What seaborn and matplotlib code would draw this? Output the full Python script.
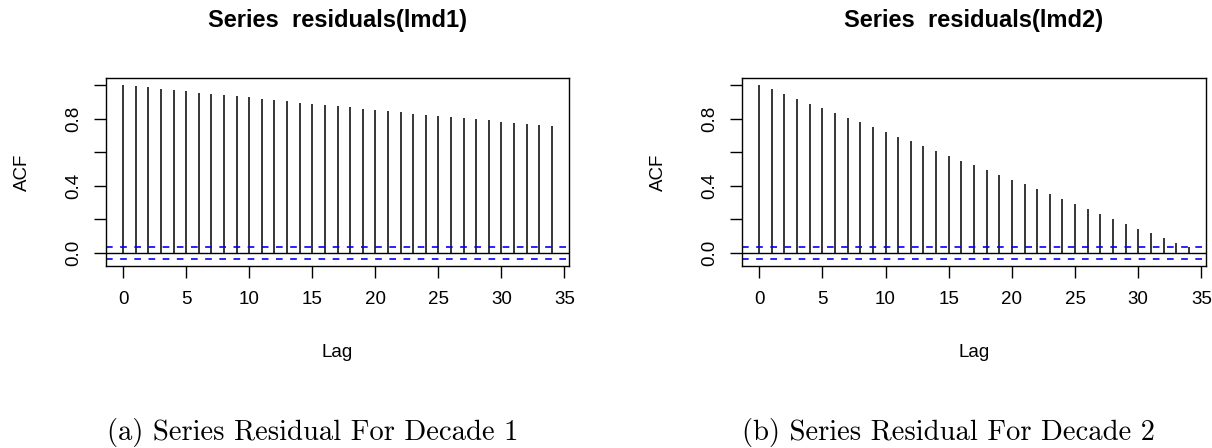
import numpy as np
import pandas as pd
import seaborn as sns
import matplotlib
matplotlib.use("Agg")
import matplotlib.pyplot as plt

# 数据：ACF 值
lags = list(range(35))
acf_lmd1 = [1.000, 0.994, 0.986, 0.978, 0.970, 0.962, 0.954, 0.946, 0.938, 0.932,
            0.926, 0.918, 0.910, 0.902, 0.894, 0.886, 0.880, 0.873, 0.866, 0.859,
            0.851, 0.843, 0.837, 0.829, 0.821, 0.815, 0.809, 0.801, 0.795, 0.789,
            0.781, 0.773, 0.767, 0.761, 0.753]
acf_lmd2 = [1.000, 0.974, 0.946, 0.918, 0.888, 0.863, 0.833, 0.805, 0.777, 0.751,
            0.721, 0.693, 0.665, 0.635, 0.608, 0.580, 0.550, 0.522, 0.494, 0.466,
            0.436, 0.408, 0.378, 0.349, 0.321, 0.293, 0.263, 0.235, 0.205, 0.175,
            0.145, 0.118, 0.090, 0.062, 0.034]
conf_limit = 0.036
titles = ["Series  residuals(lmd1)", "Series  residuals(lmd2)"]
captions = ["(a) Series Residual For Decade 1", "(b) Series Residual For Decade 2"]
x_ticks = [0, 5, 10, 15, 20, 25, 30, 35]
y_ticks = [0.0, 0.2, 0.4, 0.6, 0.8, 1.0]
y_ticklabels = ["0.0", "", "0.4", "", "0.8", ""]

df = pd.DataFrame({"lag": lags, "lmd1": acf_lmd1, "lmd2": acf_lmd2})

sns.set_theme(style="white")
plt.rcParams["font.family"] = ["Liberation Sans", "DejaVu Sans"]
plt.rcParams["axes.edgecolor"] = "black"
plt.rcParams["axes.linewidth"] = 1.0
plt.rcParams["text.color"] = "black"

fig = plt.figure(figsize=(12.12, 4.48), dpi=100)

W, H = 1212, 448
boxes = [(106, 78, 569, 266), (742, 78, 1206, 266)]
cap_x = [313, 948]

for i, col in enumerate(["lmd1", "lmd2"]):
    x0, y0, x1, y1 = boxes[i]
    w, h = x1 - x0, y1 - y0
    ax = fig.add_axes([x0 / W, 1 - y1 / H, w / W, h / H])
    ax.vlines(df["lag"], 0, df[col], color="black", lw=1.1)
    ax.axhline(0, color="black", lw=1.0)
    for c in (conf_limit, -conf_limit):
        ax.axhline(c, color="#0000ff", lw=1.2, dashes=(4, 4.5))
    ax.set_xlim(-1.36, 35.36)
    ax.set_ylim(-conf_limit - 0.04144, 1.04144)
    ax.set_xticks(x_ticks)
    ax.set_xticklabels([str(t) for t in x_ticks], fontsize=13.5)
    ax.set_yticks(y_ticks)
    ax.set_yticklabels(y_ticklabels, fontsize=13.5, rotation=90, va="center")
    ax.tick_params(axis="both", direction="out", length=8.5, width=1.0,
                   color="black", bottom=True, left=True, labelcolor="black")
    ax.tick_params(axis="x", pad=9.5)
    ax.tick_params(axis="y", pad=8.5)
    for s in ax.spines.values():
        s.set_color("black")
        s.set_linewidth(1.0)
    ax.text(0.5, (y1 - 21) / h, titles[i], transform=ax.transAxes,
            ha="center", va="center", fontsize=17, fontweight="bold")
    ax.text(0.5, (y1 - 352) / h, "Lag", transform=ax.transAxes,
            ha="center", va="center", fontsize=13.5)
    ax.text(-84 / w, 0.5, "ACF", transform=ax.transAxes,
            ha="center", va="center", rotation=90, fontsize=13.5)
    fig.text(cap_x[i] / W, 1 - 440 / H, captions[i], ha="center", va="baseline",
             fontsize=20.6, family="cmr10")

fig.savefig("out.png", dpi=100)
